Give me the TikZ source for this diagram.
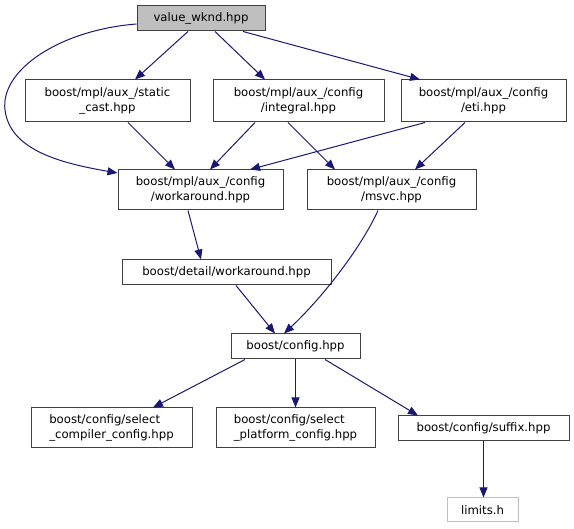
\documentclass[tikz,border=0pt]{standalone}
\usepackage{fontspec}
\setmainfont{DejaVu Sans}
\usetikzlibrary{arrows.meta}
\definecolor{edgec}{HTML}{191970}
\definecolor{boxc}{HTML}{404040}
\definecolor{grayfill}{HTML}{BFBFBF}
\begin{document}
\begin{tikzpicture}[x=1pt,y=-1pt,
  file/.style={draw=boxc,line width=1pt,fill=white,align=center,font=\fontsize{11.7}{15}\selectfont,inner sep=0pt,anchor=center},
  dep/.style={draw=edgec,line width=1pt,-{Triangle[length=10pt,width=8pt]}}]
\useasboundingbox (0,0) rectangle (574,529);
\node[file,fill=grayfill,minimum width=128pt,minimum height=25pt] (v) at (201,18.5) {value\_wknd.hpp};
\node[file,minimum width=165pt,minimum height=42pt] (sc) at (107.5,101) {boost/mpl/aux\_/static\\\_cast.hpp};
\node[file,minimum width=171pt,minimum height=42pt] (ig) at (298.5,101) {boost/mpl/aux\_/config\\/integral.hpp};
\node[file,minimum width=165pt,minimum height=42pt] (eti) at (483.5,101) {boost/mpl/aux\_/config\\/eti.hpp};
\node[file,minimum width=165pt,minimum height=40pt] (wa) at (200.5,190) {boost/mpl/aux\_/config\\/workaround.hpp};
\node[file,minimum width=169pt,minimum height=40pt] (ms) at (391.5,190) {boost/mpl/aux\_/config\\/msvc.hpp};
\node[file,minimum width=209pt,minimum height=25pt] (dw) at (226.5,272.5) {boost/detail/workaround.hpp};
\node[file,minimum width=129pt,minimum height=25pt] (cf) at (295.5,346.5) {boost/config.hpp};
\node[file,minimum width=161pt,minimum height=40pt,align=left] (scc) at (111.5,428) {boost/config/select\\\_compiler\_config.hpp};
\node[file,minimum width=159pt,minimum height=40pt,align=left] (spc) at (295.5,428) {boost/config/select\\\_platform\_config.hpp};
\node[file,minimum width=171pt,minimum height=25pt] (sf) at (483.5,428.5) {boost/config/suffix.hpp};
\node[file,draw=grayfill,minimum width=71pt,minimum height=24pt] (lim) at (482.5,510) {limits.h};

\draw[dep] (v.south -| 188,0) -- (sc.north -| 135,0);
\draw[dep] (v.south -| 215,0) -- (ig.north -| 265,0);
\draw[dep] (v.south -| 243,0) -- (eti.north -| 420,0);
\draw[dep] (v.west |- 0,24) .. controls (60,30) and (0,70) .. (5,110) .. controls (10,150) and (60,163) .. (wa.north west |- 0,173);
\draw[dep] (sc.south -| 128,0) -- (wa.north -| 175,0);
\draw[dep] (ig.south -| 255,0) -- (wa.north -| 210,0);
\draw[dep] (eti.south -| 425,0) -- (wa.north -| 250,0);
\draw[dep] (ig.south -| 288,0) -- (ms.north -| 335,0);
\draw[dep] (eti.south -| 465,0) -- (ms.north -| 415,0);
\draw[dep] (wa.south -| 188,0) -- (dw.north -| 201,0);
\draw[dep] (dw.south -| 236,0) -- (cf.north -| 275,0);
\draw[dep] (ms.south -| 378,0) .. controls (360,250) and (320,300) .. (cf.north -| 284,0);
\draw[dep] (cf.south -| 245,0) -- (scc.north -| 153,0);
\draw[dep] (cf.south) -- (spc.north);
\draw[dep] (cf.south -| 325,0) -- (sf.north -| 418,0);
\draw[dep] (sf.south -| 483.5,0) -- (lim.north -| 483.5,0);
\end{tikzpicture}
\end{document}
